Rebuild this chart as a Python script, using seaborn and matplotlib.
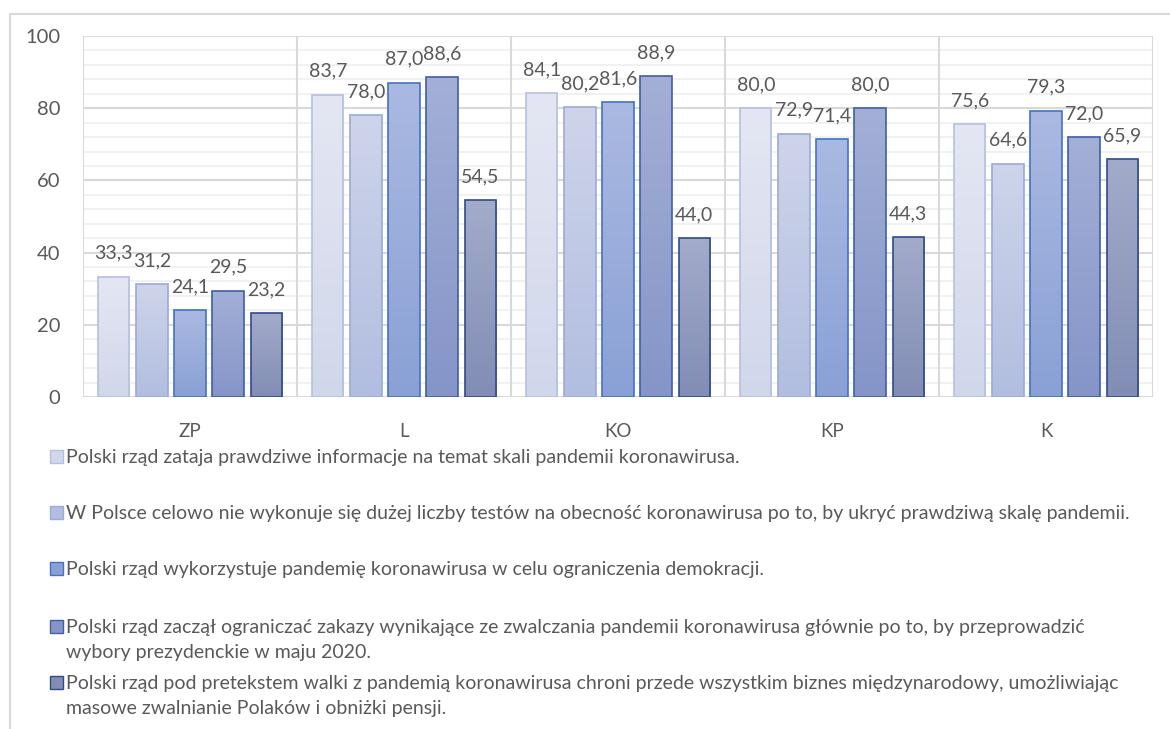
import numpy as np
import pandas as pd
import matplotlib
matplotlib.use("Agg")
import matplotlib.pyplot as plt
from matplotlib.colors import to_rgb
from matplotlib.patches import Rectangle
from matplotlib.lines import Line2D
import seaborn as sns

# Groups on the x axis
categories = ["ZP", "L", "KO", "KP", "K"]

# Statements (legend entries)
statements = [
    "Polski rząd zataja prawdziwe informacje na temat skali pandemii koronawirusa.",
    "W Polsce celowo nie wykonuje się dużej liczby testów na obecność koronawirusa po to, by ukryć prawdziwą skalę pandemii.",
    "Polski rząd wykorzystuje pandemię koronawirusa w celu ograniczenia demokracji.",
    "Polski rząd zaczął ograniczać zakazy wynikające ze zwalczania pandemii koronawirusa głównie po to, by przeprowadzić\nwybory prezydenckie w maju 2020.",
    "Polski rząd pod pretekstem walki z pandemią koronawirusa chroni przede wszystkim biznes międzynarodowy, umożliwiając\nmasowe zwalnianie Polaków i obniżki pensji.",
]

# Percent agreeing, one list per statement (values per group)
s1 = [33.3, 83.7, 84.1, 80.0, 75.6]
s2 = [31.2, 78.0, 80.2, 72.9, 64.6]
s3 = [24.1, 87.0, 81.6, 71.4, 79.3]
s4 = [29.5, 88.6, 88.9, 80.0, 72.0]
s5 = [23.2, 54.5, 44.0, 44.3, 65.9]
series = [s1, s2, s3, s4, s5]

y_ticks = [0, 20, 40, 60, 80, 100]

# Gradient (top, bottom) and outline colour per statement
grad_top = ["#E4E7F3", "#CED4EA", "#AAB9E1", "#A3AFD6", "#A3ABCA"]
grad_bot = ["#D1D7EB", "#B2BEE0", "#8AA1D6", "#8595C8", "#818DB5"]
edges = ["#B4BFE2", "#9AAAD9", "#4472C4", "#3E5FA6", "#2F4B87"]

df = pd.DataFrame(
    [(c, statements[i], v) for i, s in enumerate(series) for c, v in zip(categories, s)],
    columns=["grupa", "stwierdzenie", "wartosc"],
)

sns.set_theme(style="white")
plt.rcParams["font.family"] = ["Lato", "DejaVu Sans"]
text_color = "#595959"
grid_major = "#D9D9D9"
grid_minor = "#EFEFEF"

fig = plt.figure(figsize=(11.7, 7.29), dpi=100)
W, H = 1170, 729
ax = fig.add_axes([83 / W, 1 - 397 / H, (1153 - 83) / W, (397 - 36) / H])

sns.barplot(
    data=df, x="grupa", y="wartosc", hue="stwierdzenie",
    order=categories, hue_order=statements,
    palette=grad_bot, width=0.89, gap=0.18, legend=False,
    saturation=1, ax=ax, errorbar=None,
)

ax.set_ylim(0, 100)
ax.set_xlim(-0.5, len(categories) - 0.5)
ax.set_yticks(y_ticks)
ax.set_yticks(np.arange(0, 101, 4), minor=True)
ax.set_xticks(range(len(categories)))
ax.set_xticklabels(categories)
ax.set_xlabel("")
ax.set_ylabel("")
for sp in ax.spines.values():
    sp.set_visible(False)

ax.tick_params(axis="y", which="both", length=0, pad=16.5, labelsize=14.5, labelcolor=text_color)
ax.tick_params(axis="x", length=0, pad=19, labelsize=13.5, labelcolor=text_color)

# Horizontal grid: major every 20, minor every 4
for v in np.arange(0, 101, 4):
    ax.axhline(v, color=grid_minor, lw=1.2, zorder=0)
for v in y_ticks:
    ax.axhline(v, color=grid_major, lw=1.5, zorder=0.5)
# Vertical separators between groups
for xb in np.arange(-0.5, len(categories), 1.0):
    ax.axvline(xb, color=grid_major, lw=1.5, zorder=0.5)

# Vertical gradient fill + outline + value labels
for k, cont in enumerate(ax.containers):
    c_top = np.array(to_rgb(grad_top[k]))
    c_bot = np.array(to_rgb(grad_bot[k]))
    t = np.linspace(0, 1, 64)[:, None]
    img = (c_top[None, :] * (1 - t) + c_bot[None, :] * t)[:, None, :]
    for patch, val in zip(cont.patches, series[k]):
        x0 = patch.get_x()
        w = patch.get_width()
        h = patch.get_height()
        im = ax.imshow(img, extent=[x0, x0 + w, 0, h], origin="upper",
                       aspect="auto", zorder=2, interpolation="bilinear")
        im.set_clip_path(patch)
        patch.set_facecolor("none")
        patch.set_edgecolor(edges[k])
        patch.set_linewidth(1.2)
        patch.set_zorder(3)
        ax.annotate(f"{val:.1f}".replace(".", ","), (x0 + w / 2, h),
                    xytext=(0, 13), textcoords="offset points",
                    ha="center", va="baseline", fontsize=14, color=text_color,
                    zorder=4)

ax.set_xlim(-0.5, len(categories) - 0.5)
ax.set_ylim(0, 100)

# Legend block below the plot
legend_rows = [456, 512, 568, 626, 682]
for k, (label, yc) in enumerate(zip(statements, legend_rows)):
    sq = Rectangle((50 / W, 1 - (yc + 7) / H), 12.5 / W, 13 / H,
                   transform=fig.transFigure, facecolor=grad_bot[k],
                   edgecolor=edges[k], lw=1.0)
    fig.patches.append(sq)
    fig.text(66 / W, 1 - (yc - 7) / H, label, ha="left", va="top",
             fontsize=14, color=text_color, linespacing=1.55)

# Outer chart frame (top and left edges)
fig.lines.append(Line2D([10 / W, 1.0], [1 - 14 / H, 1 - 14 / H], transform=fig.transFigure,
                        color=grid_major, lw=1.5))
fig.lines.append(Line2D([10 / W, 10 / W], [0, 1 - 14 / H], transform=fig.transFigure,
                        color=grid_major, lw=1.5))

fig.savefig("out.png", dpi=100, facecolor="white")
